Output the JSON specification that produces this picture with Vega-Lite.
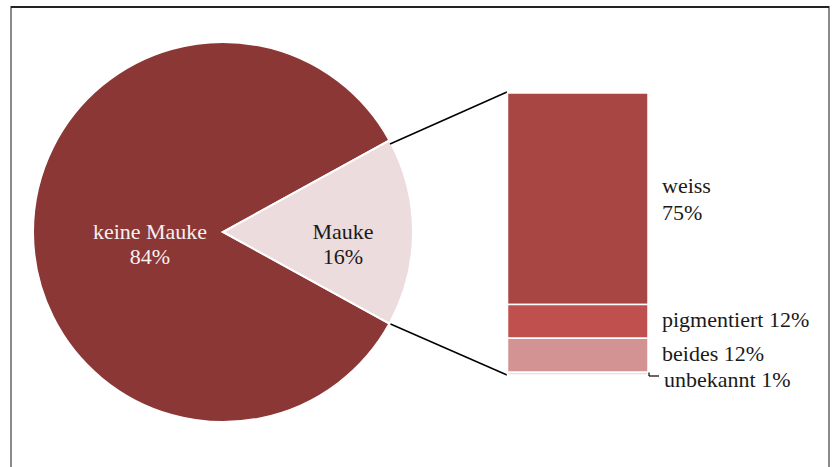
{
  "$schema": "https://vega.github.io/schema/vega-lite/v6.json",
  "width": 818,
  "height": 470,
  "autosize": "none",
  "padding": {"left": 11, "top": 7, "right": 5, "bottom": 0},
  "background": "#ffffff",
  "config": {
    "view": {"stroke": "#8a8a8a", "strokeWidth": 2},
    "axis": {"disable": true},
    "text": {"font": "Liberation Serif"}
  },
  "datasets": {
    "pie": [
      {"Kategorie": "keine Mauke", "Anteil": 0.84},
      {"Kategorie": "Mauke", "Anteil": 0.16}
    ],
    "bar": [
      {"Kategorie": "weiss", "Anteil": 0.75},
      {"Kategorie": "pigmentiert", "Anteil": 0.12},
      {"Kategorie": "beides", "Anteil": 0.12},
      {"Kategorie": "unbekannt", "Anteil": 0.01}
    ]
  },
  "resolve": {"scale": {"y": "independent"}},
  "layer": [
    {
      "data": {"values": [{}]},
      "mark": {"type": "rule", "color": "#000000", "strokeWidth": 1.5},
      "encoding": {"y": {"value": 0}}
    },
    {
      "data": {"name": "pie"},
      "mark": {"type": "arc", "outerRadius": 190, "stroke": "#ffffff", "strokeWidth": 2},
      "encoding": {
        "theta": {"field": "Anteil", "type": "quantitative", "stack": true, "scale": {"range": [1.06814, 7.35133]}},
        "order": {"field": "Anteil", "sort": "ascending"},
        "color": {
          "field": "Kategorie", "type": "nominal", "legend": null,
          "scale": {
            "domain": ["keine Mauke", "Mauke", "weiss", "pigmentiert", "beides", "unbekannt"],
            "range": ["#8B3735", "#EDDCDD", "#A84644", "#C0504D", "#D39392", "#EFDCDC"]
          }
        },
        "x": {"datum": 212, "type": "quantitative", "scale": {"domain": [0, 818], "range": [0, 818], "nice": false, "zero": false}, "axis": null},
        "y": {"datum": 225, "type": "quantitative", "scale": {"domain": [0, 470], "range": [0, 470], "nice": false, "zero": false}, "axis": null}
      }
    },
    {
      "data": {"name": "pie"},
      "transform": [
        {"calculate": "[datum.Kategorie, format(datum.Anteil, '.0%')]", "as": "Label"}
      ],
      "mark": {"type": "text", "fontSize": 22, "lineHeight": 25, "baseline": "middle", "align": "center", "dy": 0},
      "encoding": {
        "theta": {"field": "Anteil", "type": "quantitative", "stack": true, "scale": {"range": [1.06814, 7.35133]}},
        "order": {"field": "Anteil", "sort": "ascending"},
        "radius": {"field": "Anteil", "type": "quantitative", "scale": {"type": "linear", "domain": [0.16, 0.84], "range": [120, 73], "zero": false}},
        "text": {"field": "Label"},
        "color": {"condition": {"test": "datum.Kategorie === 'Mauke'", "value": "#1a1a1a"}, "value": "#f7f0f0"},
        "x": {"datum": 212, "type": "quantitative", "axis": null},
        "y": {"datum": 225, "type": "quantitative", "scale": {"domain": [0, 470], "range": [0, 470], "nice": false, "zero": false}, "axis": null}
      }
    },
    {
      "data": {"values": [{}]},
      "mark": {"type": "rule", "color": "#000000", "strokeWidth": 1.5},
      "encoding": {
        "x": {"datum": 379, "type": "quantitative", "axis": null},
        "x2": {"datum": 496},
        "y": {"datum": 137, "type": "quantitative", "scale": {"domain": [0, 470], "range": [0, 470], "nice": false, "zero": false}, "axis": null},
        "y2": {"datum": 85}
      }
    },
    {
      "data": {"values": [{}]},
      "mark": {"type": "rule", "color": "#000000", "strokeWidth": 1.5},
      "encoding": {
        "x": {"datum": 379.5, "type": "quantitative", "axis": null},
        "x2": {"datum": 496},
        "y": {"datum": 317, "type": "quantitative", "scale": {"domain": [0, 470], "range": [0, 470], "nice": false, "zero": false}, "axis": null},
        "y2": {"datum": 368}
      }
    },
    {
      "data": {"name": "bar"},
      "transform": [
        {"stack": "Anteil", "groupby": [], "sort": [{"field": "Anteil", "order": "ascending"}, {"field": "Kategorie", "order": "ascending"}], "as": ["y0", "y1"]}
      ],
      "mark": {"type": "bar", "stroke": "#ffffff", "strokeWidth": 1.5},
      "encoding": {
        "x": {"datum": 496.5, "type": "quantitative", "axis": null},
        "x2": {"datum": 637},
        "y": {"field": "y1", "type": "quantitative", "scale": {"domain": [0, 1], "range": [368, 86], "nice": false, "zero": false}, "axis": null},
        "y2": {"field": "y0"},
        "color": {"field": "Kategorie", "type": "nominal", "legend": null}
      }
    },
    {
      "data": {"name": "bar"},
      "transform": [
        {"stack": "Anteil", "groupby": [], "sort": [{"field": "Anteil", "order": "ascending"}, {"field": "Kategorie", "order": "ascending"}], "as": ["y0", "y1"]},
        {"calculate": "(datum.y0 + datum.y1) / 2", "as": "ymid"},
        {"calculate": "[datum.Kategorie, ' ' + format(datum.Anteil, '.0%')]", "as": "Label"},
        {"filter": "datum.Kategorie === 'weiss'"}
      ],
      "mark": {"type": "text", "align": "left", "baseline": "middle", "fontSize": 22, "lineHeight": 27, "color": "#1a1a1a", "dy": -13},
      "encoding": {
        "x": {"datum": 651, "type": "quantitative", "axis": null},
        "y": {"field": "ymid", "type": "quantitative", "scale": {"domain": [0, 1], "range": [368, 86], "nice": false, "zero": false}, "axis": null},
        "text": {"field": "Label"}
      }
    },
    {
      "data": {"name": "bar"},
      "transform": [
        {"stack": "Anteil", "groupby": [], "sort": [{"field": "Anteil", "order": "ascending"}, {"field": "Kategorie", "order": "ascending"}], "as": ["y0", "y1"]},
        {"calculate": "(datum.y0 + datum.y1) / 2", "as": "ymid"},
        {"calculate": "datum.Kategorie + ' ' + format(datum.Anteil, '.0%')", "as": "Label"},
        {"filter": "datum.Kategorie === 'pigmentiert' || datum.Kategorie === 'beides'"}
      ],
      "mark": {"type": "text", "align": "left", "baseline": "middle", "fontSize": 22, "color": "#1a1a1a", "dy": -1},
      "encoding": {
        "x": {"datum": 651, "type": "quantitative", "axis": null},
        "y": {"field": "ymid", "type": "quantitative", "scale": {"domain": [0, 1], "range": [368, 86], "nice": false, "zero": false}, "axis": null},
        "text": {"field": "Label"}
      }
    },
    {
      "data": {"name": "bar"},
      "transform": [
        {"stack": "Anteil", "groupby": [], "sort": [{"field": "Anteil", "order": "ascending"}, {"field": "Kategorie", "order": "ascending"}], "as": ["y0", "y1"]},
        {"calculate": "(datum.y0 + datum.y1) / 2", "as": "ymid"},
        {"calculate": "datum.Kategorie + ' ' + format(datum.Anteil, '.0%')", "as": "Label"},
        {"filter": "datum.Kategorie === 'unbekannt'"}
      ],
      "mark": {"type": "text", "align": "left", "baseline": "middle", "fontSize": 22, "color": "#1a1a1a", "dy": 6},
      "encoding": {
        "x": {"datum": 653, "type": "quantitative", "axis": null},
        "y": {"field": "ymid", "type": "quantitative", "scale": {"domain": [0, 1], "range": [368, 86], "nice": false, "zero": false}, "axis": null},
        "text": {"field": "Label"}
      }
    },
    {
      "data": {"values": [{}]},
      "mark": {"type": "rule", "color": "#000000", "strokeWidth": 1.2},
      "encoding": {
        "x": {"datum": 638, "type": "quantitative", "axis": null},
        "y": {"datum": 365.5, "type": "quantitative", "scale": {"domain": [0, 470], "range": [0, 470], "nice": false, "zero": false}, "axis": null},
        "y2": {"datum": 369}
      }
    },
    {
      "data": {"values": [{}]},
      "mark": {"type": "rule", "color": "#000000", "strokeWidth": 1.2},
      "encoding": {
        "x": {"datum": 638, "type": "quantitative", "axis": null},
        "x2": {"datum": 648},
        "y": {"datum": 369, "type": "quantitative", "scale": {"domain": [0, 470], "range": [0, 470], "nice": false, "zero": false}, "axis": null}
      }
    }
  ]
}
